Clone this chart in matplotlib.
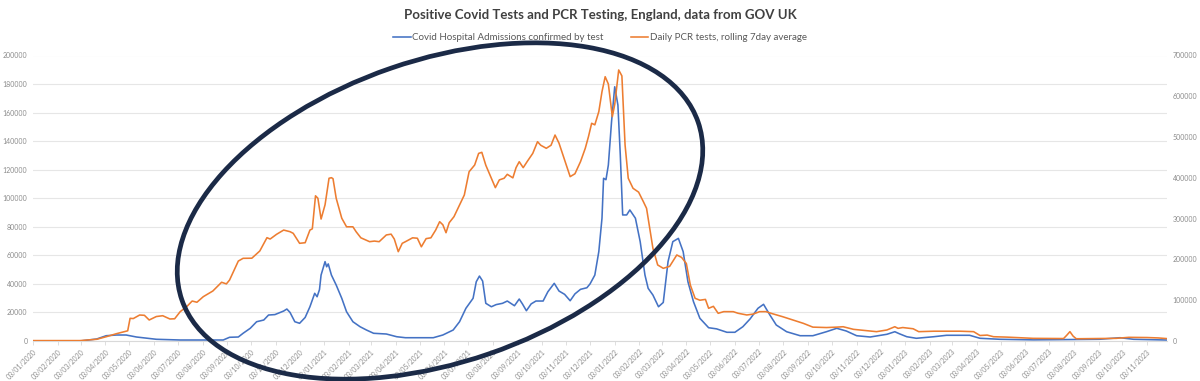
import matplotlib
matplotlib.use("Agg")
import matplotlib.pyplot as plt
import matplotlib.dates as mdates
from matplotlib.patches import Ellipse
from matplotlib.transforms import IdentityTransform
import pandas as pd

# ---------------- data ----------------
title = "Positive Covid Tests and PCR Testing, England, data from GOV UK"
blue_label = "Covid Hospital Admissions confirmed by test"
orange_label = "Daily PCR tests, rolling 7day average"

blue_dates = [
    "2020-01-03", "2020-03-02", "2020-03-23", "2020-04-04", "2020-04-17", "2020-04-29", "2020-05-12",
    "2020-06-06", "2020-07-06", "2020-08-29", "2020-09-06", "2020-09-17", "2020-09-23", "2020-10-02",
    "2020-10-10", "2020-10-19", "2020-10-25", "2020-11-02", "2020-11-13", "2020-11-17", "2020-11-21",
    "2020-11-27", "2020-12-03", "2020-12-10", "2020-12-16", "2020-12-22", "2020-12-25", "2020-12-28",
    "2020-12-30", "2021-01-04", "2021-01-06", "2021-01-08", "2021-01-12", "2021-01-18", "2021-01-25",
    "2021-01-31", "2021-02-08", "2021-02-17", "2021-02-25", "2021-03-06", "2021-03-22", "2021-04-04",
    "2021-04-15", "2021-05-20", "2021-06-01", "2021-06-14", "2021-06-22", "2021-06-30", "2021-07-09",
    "2021-07-13", "2021-07-17", "2021-07-21", "2021-07-25", "2021-08-01", "2021-08-07", "2021-08-15",
    "2021-08-21", "2021-08-30", "2021-09-05", "2021-09-09", "2021-09-14", "2021-09-20", "2021-09-26",
    "2021-10-05", "2021-10-11", "2021-10-19", "2021-10-25", "2021-11-01", "2021-11-08", "2021-11-14",
    "2021-11-21", "2021-11-29", "2021-12-03", "2021-12-09", "2021-12-14", "2021-12-18", "2021-12-20",
    "2021-12-23", "2021-12-26", "2021-12-30", "2022-01-03", "2022-01-07", "2022-01-10", "2022-01-13",
    "2022-01-18", "2022-01-22", "2022-01-29", "2022-02-04", "2022-02-10", "2022-02-14", "2022-02-20",
    "2022-02-27", "2022-03-05", "2022-03-11", "2022-03-17", "2022-03-24", "2022-03-30", "2022-04-05",
    "2022-04-12", "2022-04-20", "2022-05-01", "2022-05-11", "2022-05-24", "2022-06-03", "2022-06-13",
    "2022-06-22", "2022-07-02", "2022-07-09", "2022-07-17", "2022-07-25", "2022-08-07", "2022-08-24",
    "2022-09-09", "2022-09-26", "2022-10-09", "2022-10-21", "2022-11-03", "2022-11-20", "2022-12-11",
    "2022-12-21", "2022-12-27", "2023-01-05", "2023-01-17", "2023-02-08", "2023-02-24", "2023-03-25",
    "2023-04-07", "2023-05-02", "2023-06-13", "2023-09-04", "2023-09-30", "2023-10-17", "2023-11-27",
]
blue_values = [
    0, 0, 1400, 3700, 4200, 4200, 2800,
    1200, 700, 700, 2600, 2800, 5400, 8900,
    13500, 14700, 18200, 18500, 21000, 22400, 20000,
    13500, 12400, 16500, 24000, 33400, 31000, 36000,
    46200, 55600, 52000, 54000, 46200, 39200, 29900,
    20500, 13500, 10000, 7700, 5400, 4900, 3000,
    2300, 2300, 4200, 7700, 13500, 22900, 29900,
    41500, 45500, 42000, 26400, 24000, 25500, 26400,
    28000, 24700, 29400, 26000, 21200, 26000, 28000,
    28000, 34500, 40400, 35000, 32700, 28200, 33000,
    36200, 37300, 40000, 46200, 62600, 86000, 114000,
    113000, 123300, 153600, 178100, 165300, 130300, 88300,
    88300, 91800, 86000, 69600, 46200, 36900, 32200,
    24000, 27000, 55600, 69600, 71900, 62600, 41500,
    27500, 15900, 9300, 8500, 6100, 6100, 10000,
    15400, 22900, 25700, 18200, 11200, 6500, 3700,
    3700, 6500, 8900, 7000, 3700, 2800, 4700,
    6500, 5000, 3000, 1900, 3000, 4000, 4000,
    1900, 1200, 800, 1200, 2300, 1200, 700,
]

orange_dates = [
    "2020-01-03", "2020-03-02", "2020-03-23", "2020-04-04", "2020-04-17", "2020-04-27", "2020-05-01",
    "2020-05-04", "2020-05-08", "2020-05-16", "2020-05-22", "2020-05-28", "2020-06-06", "2020-06-14",
    "2020-06-23", "2020-06-29", "2020-07-06", "2020-07-14", "2020-07-21", "2020-07-27", "2020-08-04",
    "2020-08-16", "2020-08-27", "2020-09-02", "2020-09-06", "2020-09-17", "2020-09-23", "2020-10-04",
    "2020-10-14", "2020-10-23", "2020-10-27", "2020-11-04", "2020-11-13", "2020-11-21", "2020-11-25",
    "2020-12-03", "2020-12-10", "2020-12-16", "2020-12-19", "2020-12-23", "2020-12-26", "2020-12-30",
    "2021-01-04", "2021-01-09", "2021-01-12", "2021-01-14", "2021-01-18", "2021-01-25", "2021-01-31",
    "2021-02-08", "2021-02-12", "2021-02-18", "2021-03-01", "2021-03-07", "2021-03-13", "2021-03-22",
    "2021-03-28", "2021-04-01", "2021-04-06", "2021-04-11", "2021-04-15", "2021-04-24", "2021-04-30",
    "2021-05-05", "2021-05-11", "2021-05-17", "2021-05-23", "2021-05-28", "2021-06-01", "2021-06-05",
    "2021-06-09", "2021-06-15", "2021-06-22", "2021-06-28", "2021-07-04", "2021-07-11", "2021-07-16",
    "2021-07-20", "2021-07-25", "2021-08-01", "2021-08-06", "2021-08-11", "2021-08-17", "2021-08-21",
    "2021-08-28", "2021-09-01", "2021-09-05", "2021-09-10", "2021-09-15", "2021-09-22", "2021-09-28",
    "2021-10-02", "2021-10-09", "2021-10-15", "2021-10-20", "2021-10-25", "2021-11-01", "2021-11-08",
    "2021-11-14", "2021-11-21", "2021-11-27", "2021-12-01", "2021-12-05", "2021-12-09", "2021-12-14",
    "2021-12-18", "2021-12-22", "2021-12-26", "2021-12-31", "2022-01-03", "2022-01-08", "2022-01-12",
    "2022-01-16", "2022-01-20", "2022-01-26", "2022-02-02", "2022-02-08", "2022-02-12", "2022-02-16",
    "2022-02-20", "2022-02-26", "2022-03-05", "2022-03-13", "2022-03-22", "2022-03-28", "2022-04-03",
    "2022-04-08", "2022-04-14", "2022-04-20", "2022-04-27", "2022-05-01", "2022-05-07", "2022-05-13",
    "2022-05-20", "2022-06-01", "2022-06-07", "2022-06-18", "2022-06-26", "2022-07-04", "2022-07-12",
    "2022-07-20", "2022-08-02", "2022-08-15", "2022-08-28", "2022-09-09", "2022-09-26", "2022-10-09",
    "2022-10-17", "2022-10-30", "2022-11-16", "2022-11-28", "2022-12-11", "2022-12-21", "2022-12-25",
    "2022-12-31", "2023-01-13", "2023-01-20", "2023-02-08", "2023-03-13", "2023-03-30", "2023-04-07",
    "2023-04-16", "2023-04-24", "2023-05-11", "2023-06-13", "2023-07-21", "2023-07-25", "2023-07-29",
    "2023-08-02", "2023-08-06", "2023-09-04", "2023-09-25", "2023-10-11", "2023-11-03", "2023-11-17",
    "2023-11-27",
]
orange_values = [
    1000, 1000, 4200, 10500, 18000, 22900, 25000,
    55600, 55000, 63700, 63000, 51500, 60000, 62000,
    54000, 54500, 72000, 84000, 98000, 95000, 108700,
    122600, 144000, 140000, 149500, 196000, 202700, 203000,
    220700, 253300, 250000, 261500, 272000, 268000, 264000,
    239500, 241000, 272000, 275000, 356000, 350000, 299000,
    334000, 399000, 400400, 398000, 350000, 301000, 280000,
    280000, 268000, 253000, 243500, 245000, 243500, 260000,
    262000, 250000, 219000, 239500, 243500, 253000, 252000,
    231000, 251000, 253000, 272000, 292500, 285000, 265500,
    290000, 304800, 333500, 358000, 415000, 431500, 460000,
    462600, 431000, 399000, 376000, 395000, 399000, 408700,
    400000, 425000, 439600, 425000, 440000, 460000, 488700,
    480000, 472500, 480000, 505000, 485000, 443800, 403000,
    410000, 439700, 472500, 501000, 533800, 530000, 562300,
    611300, 648000, 630000, 550000, 580000, 664500, 650000,
    480600, 399000, 374400, 365000, 341600, 325300, 276300,
    227300, 186400, 178200, 183000, 210900, 205000, 190000,
    137300, 104700, 100000, 102000, 80200, 85000, 67900,
    72000, 71900, 68000, 63800, 66000, 71900, 72000,
    67000, 59600, 51500, 43300, 34000, 33000, 34000,
    35000, 28600, 25300, 22900, 27000, 35000, 31000,
    33000, 30000, 22900, 24000, 24000, 22900, 13500,
    14500, 10500, 9500, 6500, 6000, 14000, 22900,
    12000, 5500, 6000, 6500, 9000, 8500, 7500,
    6000,
]

left_ticks = list(range(0, 200001, 20000))
right_ticks = list(range(0, 700001, 100000))

# ---------------- styling ----------------
plt.rcParams['font.family'] = ['Lato', 'DejaVu Sans']

BLUE = "#4472C4"
ORANGE = "#ED7D31"
TICK_GRAY = "#8c8c8c"
GRID = "#e6e6e6"

fig = plt.figure(figsize=(12, 3.81), dpi=100)
ax = fig.add_axes([33 / 1200, 1 - 341 / 381, (1167 - 33) / 1200, (341 - 55.5) / 381])
ax2 = ax.twinx()

bd = pd.to_datetime(blue_dates)
od = pd.to_datetime(orange_dates)

lb, = ax.plot(bd, blue_values, color=BLUE, lw=1.15, zorder=3, label=blue_label)
lo, = ax2.plot(od, orange_values, color=ORANGE, lw=1.15, zorder=3, label=orange_label)

ax.set_ylim(0, 200000)
ax2.set_ylim(0, 700000)
ax.set_yticks(left_ticks)
ax2.set_yticks(right_ticks)
ax.set_yticklabels([str(v) for v in left_ticks])
ax2.set_yticklabels([str(v) for v in right_ticks])

ax.set_xlim(pd.Timestamp("2020-01-03"), pd.Timestamp("2023-11-28"))
ax.xaxis.set_major_locator(mdates.MonthLocator(bymonthday=3))
ax.xaxis.set_major_formatter(mdates.DateFormatter("%d/%m/%Y"))

ax.grid(axis='y', color=GRID, lw=0.8, zorder=0)
ax.set_axisbelow(True)

for a in (ax, ax2):
    for s in a.spines.values():
        s.set_visible(False)
ax.spines['bottom'].set_visible(True)
ax.spines['bottom'].set_color("#d9d9d9")
ax.spines['bottom'].set_linewidth(0.8)

ax.tick_params(axis='y', length=0, pad=4, labelsize=5, labelcolor=TICK_GRAY)
ax2.tick_params(axis='y', length=0, pad=4, labelsize=5, labelcolor=TICK_GRAY)
ax.tick_params(axis='x', length=3, width=0.6, color="#d9d9d9", pad=2,
               labelsize=5, labelcolor=TICK_GRAY)
for lab in ax.get_xticklabels():
    lab.set_rotation(45)
    lab.set_ha('right')
    lab.set_rotation_mode('anchor')

fig.text(0.5, 1 - 15 / 381, title, ha='center', va='center',
         fontsize=9.5, fontweight='bold', color="#404040")

fig.legend(handles=[lb, lo], loc='center', bbox_to_anchor=(0.5, 1 - 38 / 381),
           ncol=2, frameon=False, fontsize=7, handlelength=1.8, handletextpad=0.15,
           columnspacing=2.8, labelcolor="#595959")

# hand-drawn ellipse annotation (display pixel coordinates)
ell = Ellipse((440, 381 - 211), width=546, height=302, angle=19,
              fill=False, edgecolor="#1b2a47", lw=3.4, transform=IdentityTransform(),
              zorder=10, clip_on=False)
fig.add_artist(ell)

fig.savefig("out.png", dpi=100)
